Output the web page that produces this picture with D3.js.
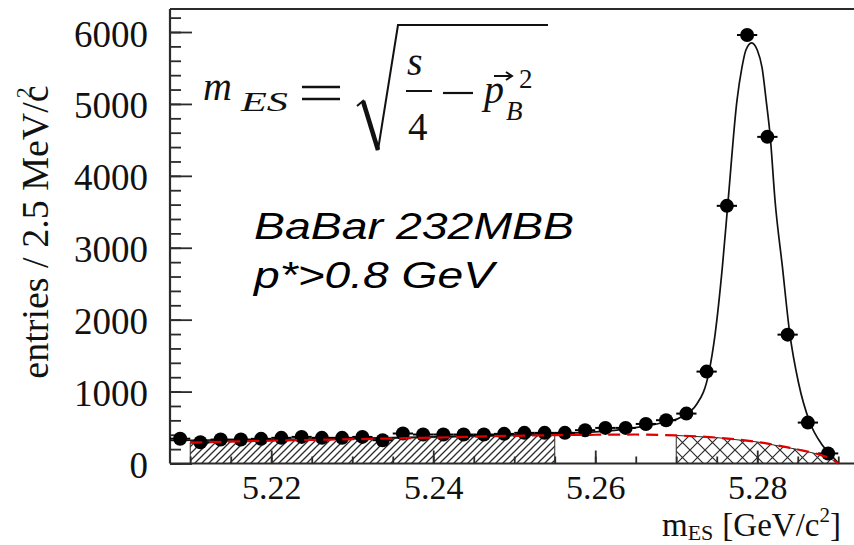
<!DOCTYPE html>
<html>
<head>
<meta charset="utf-8">
<script src="https://cdn.jsdelivr.net/npm/d3@7"></script>
<style>
  html, body { margin: 0; padding: 0; background: #fff; }
  svg { display: block; }
</style>
</head>
<body>
<svg id="chart" width="854" height="545"></svg>
<script>
// Bin centres of the m_ES histogram (GeV/c^2), 2.5 MeV bins
const binMass = [5.20875, 5.21125, 5.21375, 5.21625, 5.21875, 5.22125, 5.22375, 5.22625,
                 5.22875, 5.23125, 5.23375, 5.23625, 5.23875, 5.24125, 5.24375, 5.24625,
                 5.24875, 5.25125, 5.25375, 5.25625, 5.25875, 5.26125, 5.26375, 5.26625,
                 5.26875, 5.27125, 5.27375, 5.27625, 5.27875, 5.28125, 5.28375, 5.28625,
                 5.28875];
// Entries per bin
const binEntries = [345, 296, 333, 333, 343, 357, 370, 357, 357, 370, 324, 417, 403, 403, 403, 403,
                    412, 426, 426, 426, 463, 495, 495, 550, 602, 694, 1278, 3583, 5958, 4542, 1792,
                    569, 140];
const binHalfWidth = 0.00125;

// Total fit (signal + background), sampled along the curve
const fitMass  = [5.2075, 5.215, 5.22, 5.23, 5.24, 5.25, 5.255, 5.26, 5.265, 5.268, 5.2705,
                  5.2725, 5.274, 5.2748, 5.2757, 5.2764, 5.2775, 5.2781, 5.2786, 5.2793, 5.28,
                  5.2806, 5.2811, 5.2816, 5.2822, 5.2831, 5.284, 5.2851, 5.2865, 5.288, 5.2898, 5.29];
const fitValue = [320, 328, 333, 350, 372, 400, 418, 440, 500, 560, 640,
                  820, 1250, 1800, 2740, 3650, 5050, 5500, 5750, 5850, 5750,
                  5500, 5050, 4550, 3650, 2740, 1820, 1120, 570, 260, 30, 0];

// Combinatorial background (ARGUS-like shape), sampled along the curve
const bgMass  = [5.21, 5.22, 5.23, 5.24, 5.25, 5.26, 5.265, 5.27, 5.275, 5.28, 5.285, 5.2875, 5.2895, 5.29];
const bgValue = [290, 318, 338, 360, 385, 400, 403, 390, 360, 300, 195, 130, 40, 0];

// Sideband region (hatched) and signal region (cross-hatched)
const sidebandRange = [5.21, 5.255];
const signalRange = [5.27, 5.29];

// Axis ticks
const yMajorTicks = [0, 1000, 2000, 3000, 4000, 5000, 6000];
const yMinorTicks = d3.range(0, 6201, 200);
const xMajorTicks = [5.22, 5.24, 5.26, 5.28];
const xMinorTicks = [5.21, 5.215, 5.22, 5.225, 5.23, 5.235, 5.24, 5.245, 5.25, 5.255,
                     5.26, 5.265, 5.27, 5.275, 5.28, 5.285, 5.29];

const svg = d3.select("#chart");
const plotLeft = 170, plotRight = 858.5, plotTop = 9, plotBottom = 463.5;
const x = d3.scaleLinear().domain([5.2075, 5.2925]).range([plotLeft, plotRight]);
const y = d3.scaleLinear().domain([0, 6320]).range([plotBottom, plotTop]);

const serif = "'Liberation Serif', 'Times New Roman', serif";
const sans = "'Liberation Sans', Arial, sans-serif";
const ink = "#2b2b2b";

// Hatch patterns
const defs = svg.append("defs");
defs.append("pattern")
  .attr("id", "diag").attr("patternUnits", "userSpaceOnUse")
  .attr("width", 7).attr("height", 7)
  .append("path")
  .attr("d", "M-1,1 L1,-1 M0,7 L7,0 M6,8 L8,6")
  .attr("stroke", ink).attr("stroke-width", 1.3);
defs.append("pattern")
  .attr("id", "cross").attr("patternUnits", "userSpaceOnUse")
  .attr("width", 15).attr("height", 15)
  .append("path")
  .attr("d", "M0,15 L15,0 M-2,2 L2,-2 M13,17 L17,13 M0,0 L15,15 M-2,13 L2,17 M13,-2 L17,2")
  .attr("stroke", ink).attr("stroke-width", 1.2);

// Linear read of the background curve at an arbitrary mass
function bgAt(m) {
  for (let i = 0; i < bgMass.length - 1; i++) {
    if (m >= bgMass[i] && m <= bgMass[i + 1]) {
      const t = (m - bgMass[i]) / (bgMass[i + 1] - bgMass[i]);
      return bgValue[i] + t * (bgValue[i + 1] - bgValue[i]);
    }
  }
  return 0;
}
function regionPoints(range) {
  const pts = [[range[0], 0], [range[0], bgAt(range[0])]];
  bgMass.forEach((m, i) => { if (m > range[0] && m < range[1]) pts.push([m, bgValue[i]]); });
  pts.push([range[1], bgAt(range[1])], [range[1], 0]);
  return pts;
}
const polyLine = d3.line().x(d => x(d[0])).y(d => y(d[1]));

svg.append("path").attr("d", polyLine(regionPoints(sidebandRange)) + "Z")
  .attr("fill", "url(#diag)").attr("stroke", ink).attr("stroke-width", 1);
svg.append("path").attr("d", polyLine(regionPoints(signalRange)) + "Z")
  .attr("fill", "url(#cross)").attr("stroke", ink).attr("stroke-width", 1);

// Axes with inward ticks
const yMinor = svg.append("g").attr("transform", `translate(${plotLeft},0)`)
  .call(d3.axisLeft(y).tickValues(yMinorTicks).tickSize(-11).tickFormat(""));
const yMajor = svg.append("g").attr("transform", `translate(${plotLeft},0)`)
  .call(d3.axisLeft(y).tickValues(yMajorTicks).tickSize(-22).tickPadding(22).tickFormat(d3.format("d")));
const xMinor = svg.append("g").attr("transform", `translate(0,${plotBottom})`)
  .call(d3.axisBottom(x).tickValues(xMinorTicks).tickSize(-7).tickFormat(""));
const xMajor = svg.append("g").attr("transform", `translate(0,${plotBottom})`)
  .call(d3.axisBottom(x).tickValues(xMajorTicks).tickSize(-13).tickFormat(d3.format(".2f")));

[yMinor, yMajor, xMinor, xMajor].forEach(g => {
  g.select(".domain").remove();
  g.selectAll(".tick line").attr("stroke", ink).attr("stroke-width", 1.8);
});
yMajor.selectAll(".tick text")
  .attr("font-family", serif).attr("font-size", 37).attr("fill", "#111")
  .attr("dy", 14).attr("x", -22);
xMajor.selectAll(".tick text")
  .attr("font-family", serif).attr("font-size", 34).attr("fill", "#111")
  .attr("dy", 0).attr("y", 35.5);

// Frame
const frame = svg.append("g").attr("stroke", ink).attr("stroke-width", 2.2).attr("fill", "none");
frame.append("line").attr("x1", plotLeft).attr("x2", plotLeft).attr("y1", plotTop).attr("y2", plotBottom);
frame.append("line").attr("x1", plotLeft).attr("x2", 854).attr("y1", plotBottom).attr("y2", plotBottom);
frame.append("line").attr("x1", plotLeft).attr("x2", 854).attr("y1", plotTop).attr("y2", plotTop);

// Total fit
svg.append("path")
  .datum(fitMass.map((m, i) => [m, fitValue[i]]))
  .attr("d", d3.line().x(d => x(d[0])).y(d => y(d[1])).curve(d3.curveMonotoneX))
  .attr("fill", "none").attr("stroke", "#111").attr("stroke-width", 1.7);

// Data points with bin-width error bars
const pts = svg.append("g");
binMass.forEach((m, i) => {
  pts.append("line")
    .attr("x1", x(m - binHalfWidth)).attr("x2", x(m + binHalfWidth))
    .attr("y1", y(binEntries[i])).attr("y2", y(binEntries[i]))
    .attr("stroke", "#000").attr("stroke-width", 2);
  pts.append("circle")
    .attr("cx", x(m)).attr("cy", y(binEntries[i])).attr("r", 7)
    .attr("fill", "#000");
});

// Background shape
svg.append("path")
  .datum(bgMass.map((m, i) => [m, bgValue[i]]))
  .attr("d", d3.line().x(d => x(d[0])).y(d => y(d[1])).curve(d3.curveMonotoneX))
  .attr("fill", "none").attr("stroke", "#e00000").attr("stroke-width", 2.2)
  .attr("stroke-dasharray", "12,7");

// Axis titles
svg.append("text")
  .attr("transform", "translate(48,232) rotate(-90)")
  .attr("text-anchor", "middle")
  .attr("font-family", serif).attr("font-size", 38).attr("fill", "#111")
  .call(t => {
    t.append("tspan").text("entries / 2.5 MeV/c");
    t.append("tspan").attr("font-size", 22).attr("dx", -13).attr("dy", -17).text("2");
  });

const xt = svg.append("text")
  .attr("x", 662).attr("y", 536)
  .attr("font-family", serif).attr("font-size", 33).attr("fill", "#111");
xt.append("tspan").text("m");
xt.append("tspan").attr("font-size", 22).attr("dy", 4).text("ES");
xt.append("tspan").attr("dy", -4).attr("dx", 9).text("[GeV/c");
xt.append("tspan").attr("font-size", 21).attr("dy", -14).text("2");
xt.append("tspan").attr("dy", 14).text("]");

// Formula: m_ES = sqrt(s/4 - p_B^2)
const f = svg.append("g").attr("fill", "#111").attr("font-family", serif);
f.append("text").attr("x", 203).attr("y", 100).attr("font-size", 40).attr("font-style", "italic").text("m");
f.append("text").attr("x", 241).attr("y", 111).attr("font-size", 27).attr("font-style", "italic")
  .attr("textLength", 47).attr("lengthAdjust", "spacingAndGlyphs").text("ES");
f.append("line").attr("x1", 302).attr("x2", 340).attr("y1", 87).attr("y2", 87).attr("stroke", "#111").attr("stroke-width", 2.4);
f.append("line").attr("x1", 302).attr("x2", 340).attr("y1", 99).attr("y2", 99).attr("stroke", "#111").attr("stroke-width", 2.4);
f.append("path").attr("d", "M357,106 L363,101 L378,150 L398,25 L548,25")
  .attr("fill", "none").attr("stroke", "#111").attr("stroke-width", 2);
f.append("path").attr("d", "M363,101 L378,150").attr("stroke", "#111").attr("stroke-width", 4.5);
f.append("text").attr("x", 407).attr("y", 75).attr("font-size", 40).attr("font-style", "italic").text("s");
f.append("line").attr("x1", 406).attr("x2", 432).attr("y1", 91).attr("y2", 91).attr("stroke", "#111").attr("stroke-width", 2);
f.append("text").attr("x", 408).attr("y", 140).attr("font-size", 39).text("4");
f.append("line").attr("x1", 443).attr("x2", 473).attr("y1", 93).attr("y2", 93).attr("stroke", "#111").attr("stroke-width", 2.2);
f.append("text").attr("x", 484).attr("y", 103).attr("font-size", 40).attr("font-style", "italic").text("p");
f.append("path").attr("d", "M494,76 L511,76 M506,72 L512,76 L506,80")
  .attr("fill", "none").attr("stroke", "#111").attr("stroke-width", 2);
f.append("text").attr("x", 506).attr("y", 120).attr("font-size", 27).attr("font-style", "italic").text("B");
f.append("text").attr("x", 519).attr("y", 88).attr("font-size", 27).text("2");

// Dataset annotation
const ann = svg.append("g").attr("font-family", sans).attr("font-style", "italic")
  .attr("font-size", 36).attr("fill", "#000");
ann.append("text").attr("x", 254).attr("y", 239)
  .attr("textLength", 320).attr("lengthAdjust", "spacingAndGlyphs").text("BaBar 232MBB");
ann.append("text").attr("x", 254).attr("y", 288)
  .attr("textLength", 240).attr("lengthAdjust", "spacingAndGlyphs").text("p*>0.8 GeV");
</script>
</body>
</html>
